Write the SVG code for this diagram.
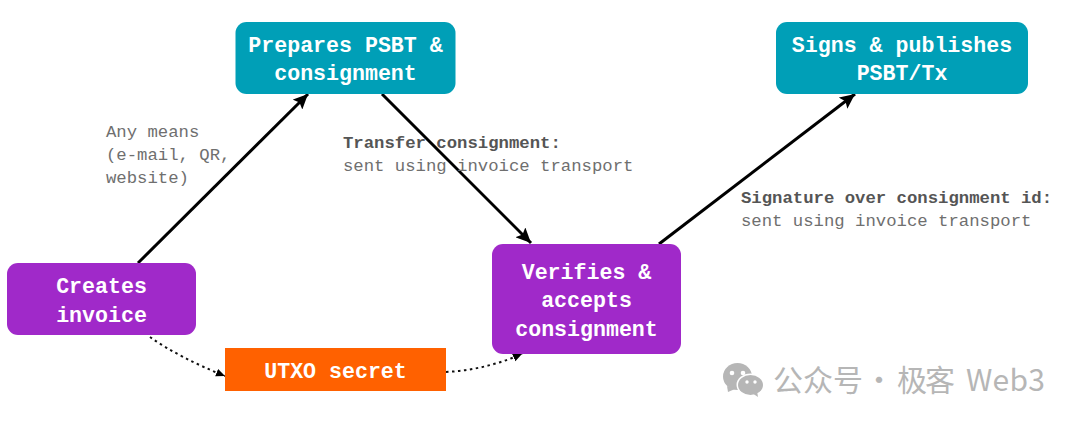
<svg xmlns="http://www.w3.org/2000/svg" width="1080" height="425" viewBox="0 0 1080 425">
<style>
.n{font-family:"Liberation Mono","DejaVu Sans Mono",monospace;font-size:21.6px;font-weight:700;fill:#fff;text-anchor:middle}
.l{font-family:"Liberation Mono","DejaVu Sans Mono",monospace;font-size:17.3px;fill:#6f6f6f}
.b{font-weight:700;fill:#555}
.c{fill:none;stroke:#000;stroke-width:3}
.d{fill:none;stroke:#111;stroke-width:2;stroke-dasharray:2.5 3.5}
.p{fill:#a029c9}.t{fill:#009fb7}
.w{font-family:"Noto Sans CJK SC","Noto Sans",sans-serif;font-size:30px}
</style>
<defs>
<marker id="a" markerUnits="userSpaceOnUse" markerWidth="16" markerHeight="14" refX="15" refY="7" orient="auto"><path d="M0 0L15 7L0 14L3 7Z" fill="#000"/></marker>
<marker id="s" markerUnits="userSpaceOnUse" markerWidth="10" markerHeight="10" refX="9" refY="5" orient="auto"><path d="M0 1L9 5L0 9Z" fill="#000"/></marker>
</defs>
<rect width="1080" height="425" fill="#fff"/>
<g id="connectors">
<path class="c" d="M138 263L308 94" marker-end="url(#a)"/>
<path class="c" d="M382 94L531 243" marker-end="url(#a)"/>
<path class="c" d="M659 244L855 94" marker-end="url(#a)"/>
<path class="d" d="M150 337Q180 358 225 376" marker-end="url(#s)"/>
<path class="d" d="M446 372Q485 370 522 354" marker-end="url(#s)"/>
</g>
<g id="creates-invoice"><rect class="p" x="7" y="263" width="189" height="72" rx="11"/><text class="n" x="101.500" y="293">Creates</text><text class="n" x="101.500" y="322">invoice</text></g>
<g id="prepares-psbt"><rect class="t" x="235.500" y="22" width="220" height="72" rx="11"/><text class="n" x="345.500" y="52">Prepares PSBT &amp;</text><text class="n" x="345.500" y="80">consignment</text></g>
<g id="signs-publishes"><rect class="t" x="776" y="22" width="252" height="72" rx="11"/><text class="n" x="902" y="52">Signs &amp; publishes</text><text class="n" x="902" y="80">PSBT/Tx</text></g>
<g id="verifies"><rect class="p" x="492" y="244" width="189" height="110" rx="11"/><text class="n" x="586.500" y="279">Verifies &amp;</text><text class="n" x="586.500" y="307">accepts</text><text class="n" x="586.500" y="336">consignment</text></g>
<g id="utxo-secret"><rect x="225" y="348" width="221" height="43" fill="#ff6100"/><text class="n" x="335.500" y="378">UTXO secret</text></g>
<g id="labels">
<text class="l" x="106" y="137">Any means</text><text class="l" x="106" y="160">(e-mail, QR,</text><text class="l" x="106" y="183">website)</text>
<text class="l b" x="343" y="148">Transfer consignment:</text><text class="l" x="343" y="171">sent using invoice transport</text>
<text class="l b" x="741" y="203">Signature over consignment id:</text><text class="l" x="741" y="226">sent using invoice transport</text>
</g>
<g id="watermark" fill="#b6b6b6">
<ellipse cx="737.500" cy="376.500" rx="14.500" ry="13.500"/><path d="M727 386L728 392L735 389Z"/>
<ellipse cx="750.500" cy="385" rx="14" ry="11.500" fill="#fff"/>
<ellipse cx="750.500" cy="385" rx="12.500" ry="10"/><path d="M752 393L758 397L757 391Z"/>
<circle cx="732" cy="373" r="2.300" fill="#fff"/><circle cx="743" cy="373" r="2.300" fill="#fff"/><circle cx="747" cy="382" r="1.700" fill="#fff"/><circle cx="755" cy="382" r="1.700" fill="#fff"/>
<text class="w" x="773" y="391" textLength="90">公众号</text>
<text class="w" x="864" y="391">·</text>
<text class="w" x="897" y="391" textLength="58">极客</text>
<text class="w" x="966" y="391" textLength="79">Web3</text>
</g>
</svg>
